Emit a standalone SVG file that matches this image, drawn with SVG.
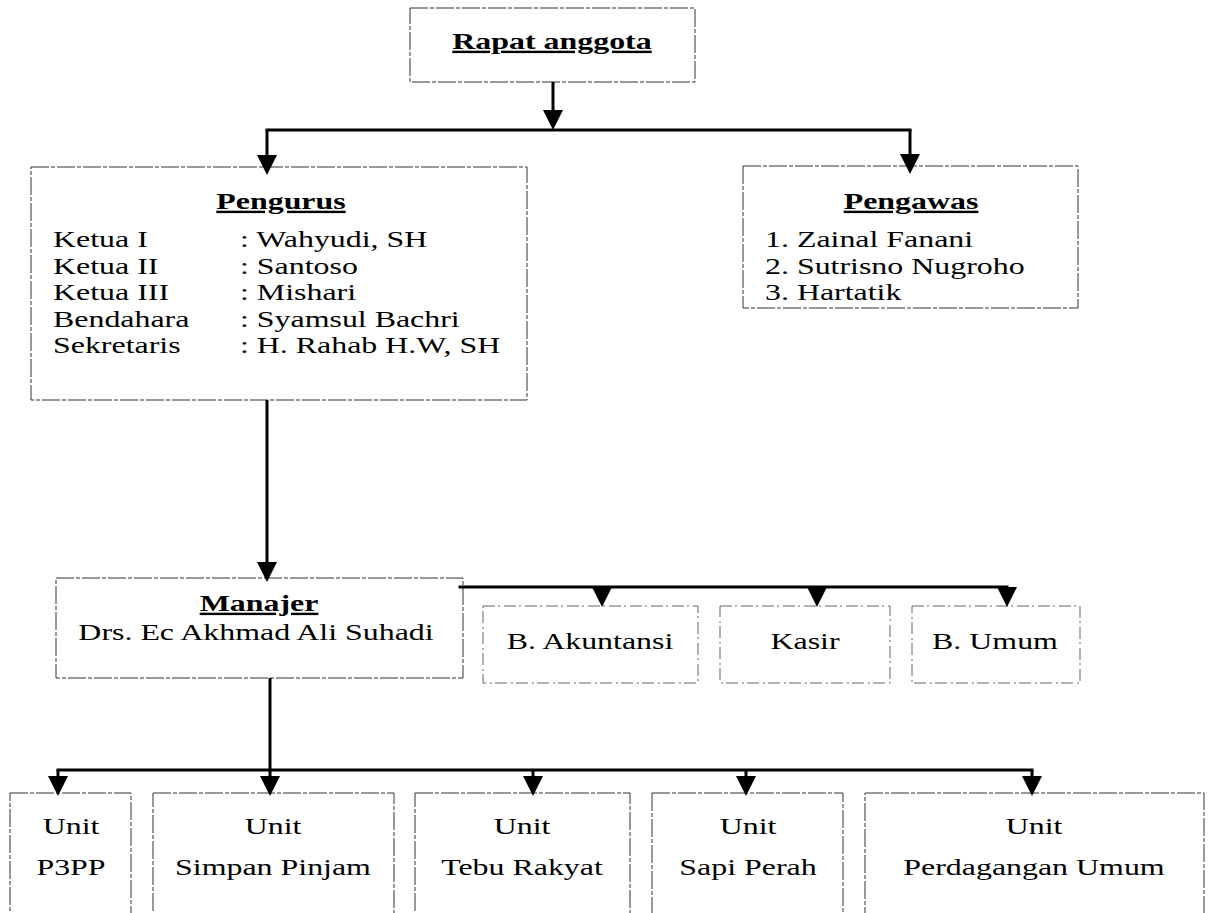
<svg xmlns="http://www.w3.org/2000/svg" width="1211" height="913" viewBox="0 0 1211 913">
  <style>
    text { font-family: "Liberation Serif", "Times New Roman", serif; font-size: 24px; fill: #000; }
    .h { font-weight: bold; text-decoration: underline; }
    .c { text-anchor: middle; }
    .box { fill: #fff; stroke: #333; stroke-width: 1; stroke-dasharray: 18 2 4 2; }
    .lbox { fill: #fff; stroke: #666; stroke-width: 1; stroke-dasharray: 12 3 2 4; }
    .ln { fill: none; stroke: #000; stroke-width: 3; }
    .bus { fill: none; stroke: #000; stroke-width: 3; stroke-linecap: square; }
  </style>
  <defs>
    <marker id="ah" viewBox="0 0 20 20" refX="16" refY="10" markerWidth="20" markerHeight="20" markerUnits="userSpaceOnUse" orient="auto">
      <path d="M0,0 L20,10 L0,20 z" fill="#000"/>
    </marker>
  </defs>

  <rect width="1211" height="913" fill="#fff"/>

  <g id="rapat">
    <rect class="box" x="410" y="8" width="285" height="74"/>
    <text class="h c" transform="translate(552,49) scale(1.33,1)">Rapat anggota</text>
  </g>

  <g id="pengurus">
    <rect class="box" x="31" y="167" width="496" height="233"/>
    <text class="h c" transform="translate(281,209) scale(1.33,1)">Pengurus</text>
    <text transform="translate(53,247) scale(1.33,1)">Ketua I</text>
    <text transform="translate(240,247) scale(1.33,1)">: Wahyudi, SH</text>
    <text transform="translate(53,274) scale(1.33,1)">Ketua II</text>
    <text transform="translate(240,274) scale(1.33,1)">: Santoso</text>
    <text transform="translate(53,300) scale(1.33,1)">Ketua III</text>
    <text transform="translate(240,300) scale(1.33,1)">: Mishari</text>
    <text transform="translate(53,327) scale(1.33,1)">Bendahara</text>
    <text transform="translate(240,327) scale(1.33,1)">: Syamsul Bachri</text>
    <text transform="translate(53,353) scale(1.33,1)">Sekretaris</text>
    <text transform="translate(240,353) scale(1.33,1)">: H. Rahab H.W, SH</text>
  </g>

  <g id="pengawas">
    <rect class="box" x="743" y="166" width="335" height="142"/>
    <text class="h c" transform="translate(911,209) scale(1.33,1)">Pengawas</text>
    <text transform="translate(765,247) scale(1.33,1)">1. Zainal Fanani</text>
    <text transform="translate(765,274) scale(1.33,1)">2. Sutrisno Nugroho</text>
    <text transform="translate(765,300) scale(1.33,1)">3. Hartatik</text>
  </g>

  <g id="manajer">
    <rect class="box" x="56" y="578" width="407" height="100"/>
    <text class="h c" transform="translate(259,611) scale(1.33,1)">Manajer</text>
    <text class="c" transform="translate(256,640) scale(1.33,1)">Drs. Ec Akhmad Ali Suhadi</text>
  </g>

  <g id="akuntansi">
    <rect class="lbox" x="483" y="606" width="215" height="77"/>
    <text class="c" transform="translate(590,649) scale(1.33,1)">B. Akuntansi</text>
  </g>
  <g id="kasir">
    <rect class="lbox" x="720" y="606" width="170" height="77"/>
    <text class="c" transform="translate(805,649) scale(1.33,1)">Kasir</text>
  </g>
  <g id="umum">
    <rect class="lbox" x="912" y="606" width="168" height="77"/>
    <text class="c" transform="translate(995,649) scale(1.33,1)">B. Umum</text>
  </g>

  <g id="unit-p3pp">
    <rect class="box" x="10" y="793" width="121" height="130"/>
    <text class="c" transform="translate(71,834) scale(1.33,1)">Unit</text>
    <text class="c" transform="translate(71,875) scale(1.33,1)">P3PP</text>
  </g>
  <g id="unit-simpan-pinjam">
    <rect class="box" x="153" y="793" width="241" height="130"/>
    <text class="c" transform="translate(273,834) scale(1.33,1)">Unit</text>
    <text class="c" transform="translate(273,875) scale(1.33,1)">Simpan Pinjam</text>
  </g>
  <g id="unit-tebu-rakyat">
    <rect class="box" x="415" y="793" width="215" height="130"/>
    <text class="c" transform="translate(522,834) scale(1.33,1)">Unit</text>
    <text class="c" transform="translate(522,875) scale(1.33,1)">Tebu Rakyat</text>
  </g>
  <g id="unit-sapi-perah">
    <rect class="box" x="652" y="793" width="191" height="130"/>
    <text class="c" transform="translate(748,834) scale(1.33,1)">Unit</text>
    <text class="c" transform="translate(748,875) scale(1.33,1)">Sapi Perah</text>
  </g>
  <g id="unit-perdagangan-umum">
    <rect class="box" x="865" y="793" width="339" height="130"/>
    <text class="c" transform="translate(1034,834) scale(1.33,1)">Unit</text>
    <text class="c" transform="translate(1034,875) scale(1.33,1)">Perdagangan Umum</text>
  </g>

  <g id="connectors">
    <path class="ln" d="M553,82 V126" marker-end="url(#ah)"/>
    <path class="bus" d="M267,130 H910"/>
    <path class="ln" d="M267,130 V171" marker-end="url(#ah)"/>
    <path class="ln" d="M910,130 V170" marker-end="url(#ah)"/>

    <path class="ln" d="M267,400 V578" marker-end="url(#ah)"/>

    <path class="bus" d="M460,587 H1007"/>
    <path class="ln" d="M602,587 V603" marker-end="url(#ah)"/>
    <path class="ln" d="M817,587 V603" marker-end="url(#ah)"/>
    <path class="ln" d="M1007,587 V603" marker-end="url(#ah)"/>

    <path class="ln" d="M270,678 V770"/>
    <path class="bus" d="M58,770 H1032"/>
    <path class="ln" d="M58,770 V792" marker-end="url(#ah)"/>
    <path class="ln" d="M270,770 V792" marker-end="url(#ah)"/>
    <path class="ln" d="M533,770 V792" marker-end="url(#ah)"/>
    <path class="ln" d="M746,770 V792" marker-end="url(#ah)"/>
    <path class="ln" d="M1032,770 V792" marker-end="url(#ah)"/>
  </g>
</svg>
